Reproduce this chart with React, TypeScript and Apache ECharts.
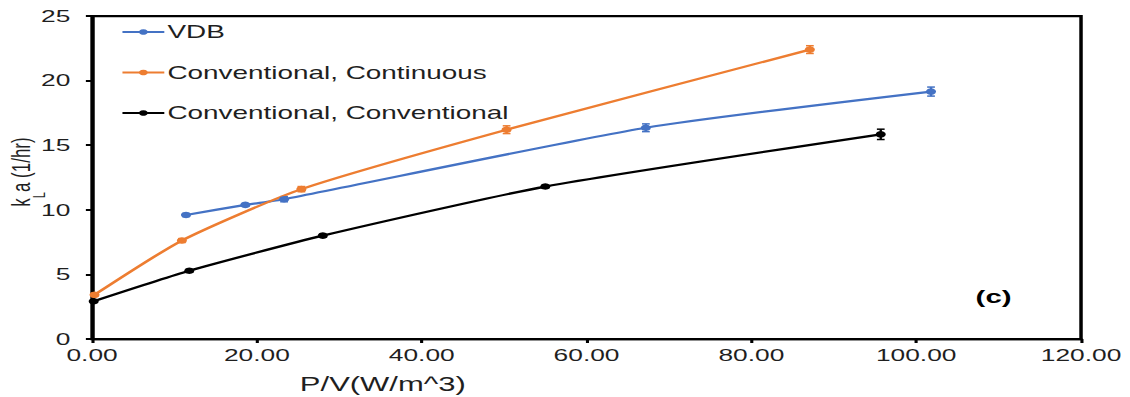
import React, { useEffect, useRef } from "react";
import * as echarts from "echarts";

// kLa versus power per unit volume for three operating modes
const vdbX = [11.4, 18.6, 23.3, 67.2, 101.8];
const vdbY = [9.6, 10.38, 10.82, 16.35, 19.15];
const vdbErr = [0.12, 0.1, 0.2, 0.3, 0.35];

const contX = [0.3, 10.9, 25.4, 50.3, 87.1];
const contY = [3.42, 7.62, 11.6, 16.2, 22.4];
const contErr = [0.12, 0.15, 0.2, 0.3, 0.3];

const convX = [0.2, 11.8, 28.0, 55.0, 95.7];
const convY = [2.92, 5.28, 8.0, 11.8, 15.84];
const convErr = [0.08, 0.1, 0.1, 0.1, 0.4];

const seriesNames = ["VDB", "Conventional, Continuous", "Conventional, Conventional"];
const seriesColors = ["#4472C4", "#ED7D31", "#000000"];

const xTicks = { min: 0, max: 120, interval: 20 };
const yTicks = { min: 0, max: 25, interval: 5 };

// the chart is laid out on a narrower canvas and widened horizontally
const PAGE_W = 1130;
const PAGE_H = 397;
const INNER_W = 729;
const STRETCH = PAGE_W / INNER_W;

const FONT = "'Liberation Sans', Arial, sans-serif";
const TEXT = "#1f1f1f";

function points(xs: number[], ys: number[]) {
  return xs.map((x, i) => [x, ys[i]]);
}

function errRows(xs: number[], ys: number[], es: number[]) {
  return xs.map((x, i) => [x, ys[i] - es[i], ys[i] + es[i]]);
}

function errorSeries(name: string, color: string, rows: number[][]) {
  return {
    name,
    type: "custom",
    data: rows,
    z: 3,
    renderItem: (_params: any, api: any) => {
      const lo = api.coord([api.value(0), api.value(1)]);
      const hi = api.coord([api.value(0), api.value(2)]);
      const cap = 2.5;
      const style = { stroke: color, lineWidth: 1.5 };
      return {
        type: "group",
        children: [
          { type: "line", shape: { x1: lo[0], y1: lo[1], x2: hi[0], y2: hi[1] }, style },
          { type: "line", shape: { x1: lo[0] - cap, y1: lo[1], x2: lo[0] + cap, y2: lo[1] }, style },
          { type: "line", shape: { x1: hi[0] - cap, y1: hi[1], x2: hi[0] + cap, y2: hi[1] }, style },
        ],
      };
    },
  };
}

function lineSeries(name: string, color: string, data: number[][]) {
  return {
    name,
    type: "line",
    data,
    smooth: 0.2,
    symbol: "circle",
    symbolSize: 6.5,
    showSymbol: true,
    lineStyle: { color, width: 2.25 },
    itemStyle: { color },
    z: 4,
  };
}

export default function App() {
  const ref = useRef<HTMLDivElement>(null);

  useEffect(() => {
    if (!ref.current) return;
    const chart = echarts.init(ref.current, null, { renderer: "svg" });

    const axisCommon = {
      axisLine: { show: true, onZero: false, lineStyle: { color: "#000", width: 2.25 } },
      axisTick: { show: true, inside: false, length: 4, lineStyle: { color: "#000", width: 2 } },
      splitLine: { show: false },
    };

    chart.setOption({
      animation: false,
      textStyle: { fontFamily: FONT },
      grid: {
        left: 59.4,
        right: INNER_W - 697.4,
        top: 16,
        bottom: PAGE_H - 339,
        show: true,
        borderColor: "#000",
        borderWidth: 2.25,
        backgroundColor: "transparent",
      },
      legend: {
        orient: "vertical",
        left: 73,
        top: 18,
        itemWidth: 27,
        itemHeight: 7,
        itemGap: 22.5,
        data: seriesNames,
        textStyle: { fontSize: 18, color: TEXT, fontFamily: FONT, padding: [0, 0, 0, -3] },
      },
      xAxis: {
        type: "value",
        ...xTicks,
        ...axisCommon,
        axisLabel: {
          fontSize: 17,
          color: TEXT,
          fontFamily: FONT,
          margin: 8,
          formatter: (v: number) => v.toFixed(2),
        },
      },
      yAxis: {
        type: "value",
        ...yTicks,
        ...axisCommon,
        axisLabel: { fontSize: 17, color: TEXT, fontFamily: FONT, margin: 14 },
      },
      graphic: [
        {
          type: "text",
          x: 18,
          y: 172,
          rotation: Math.PI / 2,
          style: {
            text: "{m|k}{s|L}{m|a (1/hr)}",
            align: "center",
            verticalAlign: "middle",
            fill: TEXT,
            rich: {
              m: { fontSize: 17, fontFamily: FONT, lineHeight: 20, verticalAlign: "top", fill: TEXT },
              s: { fontSize: 11, fontFamily: FONT, lineHeight: 26, verticalAlign: "bottom", fill: TEXT },
            },
          },
        },
        {
          type: "text",
          x: 247,
          y: 384,
          style: {
            text: "P/V(W/m^3)",
            align: "center",
            verticalAlign: "middle",
            fontSize: 20,
            fontFamily: FONT,
            fill: TEXT,
          },
        },
        {
          type: "text",
          x: 641,
          y: 296,
          style: {
            text: "(c)",
            align: "center",
            verticalAlign: "middle",
            fontSize: 19,
            fontWeight: "bold",
            fontFamily: FONT,
            fill: "#000",
          },
        },
      ],
      series: [
        lineSeries(seriesNames[0], seriesColors[0], points(vdbX, vdbY)),
        lineSeries(seriesNames[1], seriesColors[1], points(contX, contY)),
        lineSeries(seriesNames[2], seriesColors[2], points(convX, convY)),
        errorSeries(seriesNames[0], seriesColors[0], errRows(vdbX, vdbY, vdbErr)),
        errorSeries(seriesNames[1], seriesColors[1], errRows(contX, contY, contErr)),
        errorSeries(seriesNames[2], seriesColors[2], errRows(convX, convY, convErr)),
      ],
    });

    return () => chart.dispose();
  }, []);

  return (
    <div
      style={{
        position: "absolute",
        left: 0,
        top: 0,
        width: PAGE_W,
        height: PAGE_H,
        overflow: "hidden",
        background: "#fff",
      }}
    >
      <div
        ref={ref}
        style={{
          width: INNER_W,
          height: PAGE_H,
          transform: `scaleX(${STRETCH})`,
          transformOrigin: "0 0",
        }}
      />
    </div>
  );
}
